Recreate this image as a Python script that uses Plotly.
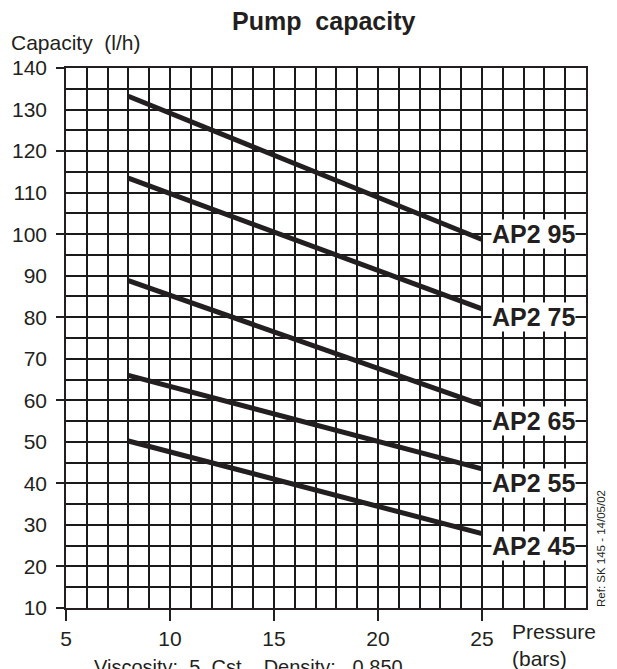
import plotly.graph_objects as go

# ---- data ----
pressure = [8, 25]
ap2_95 = [133.2, 98.7]
ap2_75 = [113.5, 82.0]
ap2_65 = [88.8, 58.9]
ap2_55 = [66.0, 43.5]
ap2_45 = [50.2, 27.9]
series_names = ["AP2 95", "AP2 75", "AP2 65", "AP2 55", "AP2 45"]
x_ticks = [5, 10, 15, 20, 25]
y_labels = [10, 20, 30, 40, 50, 60, 70, 80, 90, 100, 110, 120, 130, 140]
y_marked = [10, 20, 40, 60, 80, 100, 120, 140]

INK = "#231f20"
FONT = "Liberation Sans, Arial, sans-serif"

fig = go.Figure()
for name, vals in zip(series_names, [ap2_95, ap2_75, ap2_65, ap2_55, ap2_45]):
    fig.add_trace(go.Scatter(x=pressure, y=vals, mode="lines", name=name,
                             line=dict(color=INK, width=5), showlegend=False))
# helper trace for tick-mark axis
fig.add_trace(go.Scatter(x=[None], y=[None], yaxis="y2", showlegend=False))

# page offset caused by the default body margin
OFF = 8
PW, PH = 617, 669           # window size
W, H = PW - OFF, PH - OFF    # figure size
PL, PR_EDGE, PT, PB_EDGE = 66, 586, 68, 608   # plot area in page pixels
L = PL - OFF
T = PT - OFF
R = W - (PR_EDGE - OFF)
B = H - (PB_EDGE - OFF)

def px(p):
    return (p - PL) / (PR_EDGE - PL)

def py(p):
    return (PB_EDGE - p) / (PB_EDGE - PT)

grid_col = "#1a1a1a"
fig.update_layout(
    width=W, height=H,
    margin=dict(l=L, r=R, t=T, b=B, pad=0, autoexpand=False),
    plot_bgcolor="white", paper_bgcolor="white",
    font=dict(family=FONT, color=INK, size=21),
    xaxis=dict(range=[5, 30], tickvals=x_ticks, ticks="outside", ticklen=11,
               tickwidth=1.5, tickcolor=INK, showgrid=True, gridcolor=grid_col,
               gridwidth=1.5, minor=dict(dtick=1, showgrid=True, gridcolor=grid_col,
                                          gridwidth=1.5, tick0=5),
               showline=True, linecolor=INK, linewidth=1.5, mirror=True,
               zeroline=False, tickfont=dict(size=21), automargin=False),
    yaxis=dict(range=[10, 140], tickvals=y_labels, ticks="outside", ticklen=9,
               tickcolor="rgba(0,0,0,0)", showgrid=True, gridcolor=grid_col,
               gridwidth=1.5, minor=dict(dtick=5, tick0=10, showgrid=True,
                                          gridcolor=grid_col, gridwidth=1.5),
               showline=True, linecolor=INK, linewidth=1.5, mirror=True,
               zeroline=False, tickfont=dict(size=21), ticklabelstandoff=4,
               automargin=False),
    yaxis2=dict(range=[10, 140], overlaying="y", side="left", tickvals=y_marked,
                ticks="outside", ticklen=9, tickwidth=1.5, tickcolor=INK,
                showticklabels=False, showgrid=False, zeroline=False,
                automargin=False),
)

label_y = [100, 80, 55, 40, 25]
for name, ly in zip(series_names, label_y):
    fig.add_annotation(x=25.45, y=ly, xref="x", yref="y", text=name,
                       xanchor="left", yanchor="middle", showarrow=False,
                       bgcolor="white", borderpad=0,
                       font=dict(size=25, family=FONT, color=INK, weight="bold"))

fig.add_annotation(x=px(323), y=py(21), xref="paper", yref="paper",
                   text="Pump  capacity", showarrow=False, xanchor="center",
                   yanchor="middle", font=dict(size=25, weight="bold"))
fig.add_annotation(x=px(9), y=py(42), xref="paper", yref="paper",
                   text="Capacity  (l/h)", showarrow=False, xanchor="left",
                   yanchor="middle", font=dict(size=21))
fig.add_annotation(x=px(510), y=py(645), xref="paper", yref="paper",
                   text="Pressure<br>(bars)", showarrow=False, xanchor="left",
                   yanchor="middle", align="left", font=dict(size=21))
fig.add_annotation(x=px(92), y=py(667), xref="paper", yref="paper",
                   text="Viscosity:  5  Cst    Density:   0.850", showarrow=False,
                   xanchor="left", yanchor="middle", font=dict(size=20))
fig.add_annotation(x=px(601), y=py(549), xref="paper", yref="paper",
                   text="Ref: SK 145 - 14/05/02", showarrow=False, textangle=-90,
                   xanchor="center", yanchor="middle", font=dict(size=11.5))

fig.write_html("out.html")
